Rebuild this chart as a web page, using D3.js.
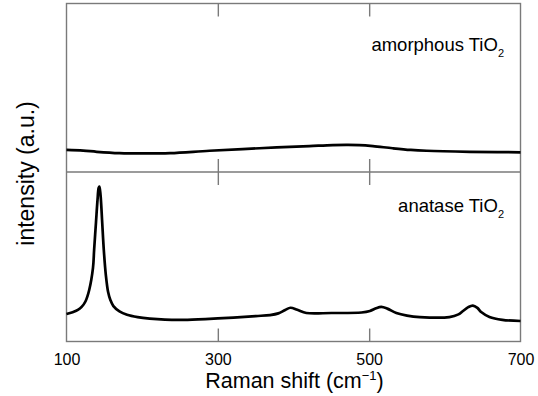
<!DOCTYPE html>
<html>
<head>
<meta charset="utf-8">
<script src="https://cdn.jsdelivr.net/npm/d3@7"></script>
<style>
  html, body { margin: 0; padding: 0; background: #fff; }
  svg { display: block; }
  text { font-family: "Liberation Sans", Arial, Helvetica, sans-serif; fill: #000; }
</style>
</head>
<body>
<svg id="chart" width="538" height="396"></svg>
<script>
// ---- data ----
const xTicks = [100, 300, 500, 700];
const xInnerTicks = [300, 500];

const amorphousShift = [100, 122, 140, 170, 200, 237, 289, 355, 421, 452, 470, 487, 505, 531, 555, 576, 633, 670, 700];
const amorphousIntensity = [13.1, 12.7, 12.0, 11.2, 11.0, 11.2, 12.6, 14.1, 15.4, 16.0, 16.1, 16.0, 15.4, 14.1, 13.1, 12.6, 12.0, 11.8, 11.7];

const anataseShift = [100, 108, 115, 120, 125, 130, 135, 136.5, 139, 141, 142.5, 143.5, 145, 147, 149.3, 152, 155, 158, 162, 170, 180, 194, 210, 230, 260, 300, 350, 369, 380, 389, 396, 405, 417, 450, 490, 501, 509, 516, 524, 536, 550, 567, 606, 618, 624, 631, 637, 643, 648, 659, 676, 700];
const anataseIntensity = [16.2, 17.2, 18.6, 20.4, 23.6, 30.4, 43.4, 54.0, 70.5, 83.5, 90.6, 91.4, 86.4, 71.7, 54.0, 39.2, 29.2, 24.5, 20.9, 17.8, 15.8, 14.4, 13.5, 12.9, 12.8, 13.6, 15.0, 15.6, 16.6, 18.6, 19.9, 18.7, 16.8, 16.8, 17.1, 18.0, 19.6, 20.4, 19.4, 16.8, 15.3, 14.4, 14.4, 16.0, 18.0, 20.3, 21.2, 19.8, 17.4, 14.5, 12.8, 12.1];

const panelLabels = ["amorphous TiO", "anatase TiO"];
const xTitle = "Raman shift (cm";
const yTitle = "intensity (a.u.)";

// ---- layout ----
const pLeft = 66.5, pRight = 520.5, pTop = 3.5, pMid = 172, pBottom = 341.5;
const svg = d3.select("#chart");
const frameColor = "#7a7a7a";

const x = d3.scaleLinear().domain([100, 700]).range([pLeft, pRight]);
const yTopScale = d3.scaleLinear().domain([0, 100]).range([pMid, pTop]);
const yBotScale = d3.scaleLinear().domain([0, 100]).range([pBottom, pMid]);

// frame
const g = svg.append("g");
g.append("rect").attr("x", pLeft).attr("y", pTop).attr("width", pRight - pLeft).attr("height", pBottom - pTop)
  .attr("fill", "none").attr("stroke", frameColor).attr("stroke-width", 1.4);
g.append("line").attr("x1", pLeft).attr("x2", pRight).attr("y1", pMid).attr("y2", pMid)
  .attr("stroke", frameColor).attr("stroke-width", 1.4);

// ticks via axes (inward)
const tickLen = 13;
function innerAxis(axisFn, yPos, size) {
  const a = svg.append("g").attr("transform", `translate(0,${yPos})`)
    .call(axisFn(x).tickValues(xInnerTicks).tickSize(size).tickFormat(""));
  a.select(".domain").remove();
  a.selectAll(".tick line").attr("stroke", frameColor).attr("stroke-width", 1.4);
}
innerAxis(d3.axisBottom, pTop, tickLen);
innerAxis(d3.axisTop, pMid, tickLen);
innerAxis(d3.axisBottom, pMid, tickLen);
innerAxis(d3.axisTop, pBottom, tickLen);

// tick labels
const labAxis = svg.append("g").attr("transform", `translate(0,${pBottom})`)
  .call(d3.axisBottom(x).tickValues(xTicks).tickSize(0).tickPadding(0).tickFormat(d3.format("d")));
labAxis.select(".domain").remove();
labAxis.selectAll("text")
  .attr("y", 0).attr("dy", 0)
  .attr("transform", "translate(0,23)")
  .style("font-family", '"Liberation Sans", Arial, Helvetica, sans-serif')
  .style("font-size", "16px").attr("fill", "#000");

// lines
const lineTop = d3.line().x(d => x(d[0])).y(d => yTopScale(d[1])).curve(d3.curveCatmullRom.alpha(0.5));
const lineBot = d3.line().x(d => x(d[0])).y(d => yBotScale(d[1])).curve(d3.curveCatmullRom.alpha(0.5));

svg.append("path")
  .datum(d3.zip(amorphousShift, amorphousIntensity))
  .attr("d", lineTop).attr("fill", "none").attr("stroke", "#000").attr("stroke-width", 2.7)
  .attr("stroke-linejoin", "round");
svg.append("path")
  .datum(d3.zip(anataseShift, anataseIntensity))
  .attr("d", lineBot).attr("fill", "none").attr("stroke", "#000").attr("stroke-width", 2.7)
  .attr("stroke-linejoin", "round");

// panel labels
function panelLabel(txt, yBase) {
  const t = svg.append("text").attr("x", 504).attr("y", yBase)
    .attr("text-anchor", "end").style("font-size", "18.5px");
  t.append("tspan").text(txt);
  t.append("tspan").text("2").style("font-size", "11px").attr("dy", 6);
}
panelLabel(panelLabels[0], 51);
panelLabel(panelLabels[1], 211.5);

// x title
const xt = svg.append("text").attr("x", (pLeft + pRight) / 2 + 1).attr("y", 387.5)
  .attr("text-anchor", "middle").style("font-size", "21.5px");
xt.append("tspan").text(xTitle);
xt.append("tspan").text("\u2212" + "1").style("font-size", "13px").attr("dy", -8);
xt.append("tspan").text(")").attr("dy", 8);

// y title
svg.append("text")
  .attr("transform", `translate(33.5,${(pTop + pBottom) / 2 + 1}) rotate(-90)`)
  .attr("text-anchor", "middle").style("font-size", "23px")
  .text(yTitle);
</script>
</body>
</html>
